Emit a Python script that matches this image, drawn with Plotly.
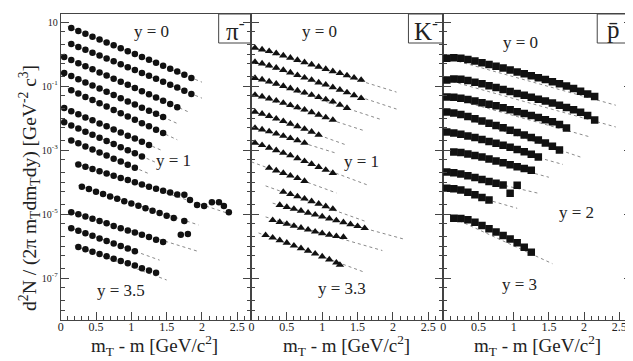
import plotly.graph_objects as go

# page body has an 8px margin: figure is 8px smaller and all reference
# pixel positions are shifted by OFF when converted to paper coordinates
OFF = 8
FW, FH = 633 - OFF, 361 - OFF

# ---------------- data (log10 of yield) ----------------
pi_x = [
    [0.15,0.25,0.35,0.45,0.55,0.65,0.75,0.85,0.95,1.05,1.15,1.25,1.35,1.45,1.55,1.65,1.75,1.85],
    [0.15,0.25,0.35,0.45,0.55,0.65,0.75,0.85,0.95,1.05,1.15,1.25,1.35,1.45,1.55,1.65,1.75,1.85],
    [0.05,0.15,0.25,0.35,0.45,0.55,0.65,0.75,0.85,0.95,1.05,1.15,1.25,1.35,1.45,1.55,1.65],
    [0.05,0.15,0.25,0.35,0.45,0.55,0.65,0.75,0.85,0.95,1.05,1.15,1.25,1.35,1.45],
    [0.15,0.25,0.35,0.45,0.55,0.65,0.75,0.85,0.95,1.05,1.15,1.25,1.35,1.45],
    [0.05,0.15,0.25,0.35,0.45,0.55,0.65,0.75,0.85,0.95,1.05,1.15,1.25],
    [0.05,0.15,0.25,0.35,0.45,0.55,0.65,0.75,0.85,0.95,1.05,1.15],
    [0.15,0.25,0.35,0.45,0.55,0.65,0.75,0.85,0.95,1.05],
    [0.25,0.35,0.45,0.55,0.65,0.75,0.85,0.95,1.05,1.15,1.25,1.35,1.45,1.55,1.65,1.75,1.83,1.93,2.03,2.14,2.24,2.31,2.38],
    [0.3,0.4,0.5,0.6,0.7,0.8,0.9,1.0,1.1,1.2,1.3,1.4,1.5,1.6,1.75],
    [0.15,0.25,0.35,0.45,0.55,0.65,0.75,0.85,0.95,1.05,1.15,1.25,1.35,1.45,1.7,1.8],
    [0.15,0.25,0.35,0.45,0.55,0.65,0.75,0.85,0.95,1.05],
    [0.25,0.35,0.45,0.55,0.65,0.75,0.85,0.95,1.05,1.15,1.25,1.35],
]
pi_ly = [
    [0.81,0.72,0.63,0.54,0.45,0.36,0.27,0.18,0.09,0.00,-0.09,-0.18,-0.27,-0.37,-0.46,-0.55,-0.65,-0.75],
    [0.31,0.22,0.13,0.04,-0.05,-0.14,-0.23,-0.32,-0.41,-0.50,-0.59,-0.68,-0.77,-0.87,-0.96,-1.05,-1.15,-1.25],
    [-0.09,-0.19,-0.29,-0.38,-0.48,-0.58,-0.67,-0.77,-0.87,-0.96,-1.06,-1.16,-1.26,-1.36,-1.46,-1.56,-1.66],
    [-0.59,-0.69,-0.79,-0.89,-0.98,-1.08,-1.18,-1.28,-1.38,-1.48,-1.58,-1.68,-1.77,-1.87,-1.97],
    [-1.13,-1.23,-1.34,-1.44,-1.54,-1.64,-1.75,-1.85,-1.95,-2.05,-2.16,-2.26,-2.37,-2.47],
    [-1.69,-1.79,-1.88,-1.98,-2.07,-2.17,-2.26,-2.36,-2.45,-2.55,-2.64,-2.74,-2.84],
    [-2.13,-2.23,-2.33,-2.43,-2.52,-2.62,-2.72,-2.81,-2.91,-3.01,-3.10,-3.20],
    [-2.70,-2.79,-2.89,-2.98,-3.08,-3.17,-3.27,-3.36,-3.46,-3.55],
    [-3.45,-3.52,-3.59,-3.66,-3.73,-3.80,-3.87,-3.94,-4.01,-4.08,-4.15,-4.21,-4.27,-4.33,-4.39,-4.40,-4.56,-4.72,-4.75,-4.63,-4.63,-4.75,-4.94],
    [-4.15,-4.22,-4.30,-4.37,-4.45,-4.52,-4.60,-4.67,-4.74,-4.82,-4.90,-4.97,-5.05,-5.12,-5.22],
    [-4.94,-5.01,-5.08,-5.15,-5.22,-5.29,-5.37,-5.44,-5.51,-5.58,-5.65,-5.72,-5.80,-5.87,-5.65,-5.62],
    [-5.44,-5.52,-5.60,-5.68,-5.76,-5.84,-5.92,-6.00,-6.08,-6.16],
    [-6.03,-6.10,-6.18,-6.25,-6.32,-6.40,-6.47,-6.54,-6.61,-6.69,-6.76,-6.83],
]
pi_fit_x = [[0.1,2.0],[0.1,2.0],[0.05,1.8],[0.05,1.65],[0.1,1.65],[0.05,1.45],[0.05,1.35],[0.1,1.25],
            [0.2,2.4],[0.25,1.95],[0.1,1.95],[0.1,1.4],[0.2,1.5]]
pi_fit_ly = [[0.86,-0.88],[0.36,-1.38],[-0.09,-1.80],[-0.59,-2.17],[-1.08,-2.68],[-1.69,-3.03],[-2.13,-3.39],
             [-2.65,-3.74],[-3.41,-5.00],[-4.11,-5.34],[-4.91,-6.17],[-5.40,-6.44],[-5.99,-7.06]]

k_x = [
    [0.05,0.15,0.25,0.35,0.45,0.55,0.65,0.75,0.85,0.95,1.05,1.15,1.25,1.35,1.45,1.55],
    [0.05,0.15,0.25,0.35,0.45,0.55,0.65,0.75,0.85,0.95,1.05,1.15,1.25,1.35,1.45,1.55],
    [0.05,0.15,0.25,0.35,0.45,0.55,0.65,0.75,0.85,0.95,1.05,1.15,1.25,1.35],
    [0.05,0.15,0.25,0.35,0.45,0.55,0.65,0.75,0.85,0.95,1.05,1.15],
    [0.05,0.15,0.25,0.35,0.45,0.55,0.65,0.75,0.85,0.95],
    [0.05,0.15,0.25,0.35,0.45,0.55,0.65,0.75],
    [0.05,0.15,0.25,0.35,0.45,0.55,0.65,0.75,0.85,0.95,1.05,1.15],
    [0.25,0.35,0.45,0.55,0.65,0.75],
    [0.45,0.55,0.65,0.75,0.85,0.95,1.05,1.15],
    [0.4,0.5,0.6,0.7,0.8,0.9,1.0,1.1,1.2,1.3,1.4,1.5,1.6],
    [0.3,0.4,0.5,0.6,0.7,0.8,0.9,1.0,1.1,1.2,1.3],
    [0.2,0.3,0.4,0.5,0.6,0.7,0.8,0.9,1.0,1.1,1.2,1.25],
]
k_ly = [
    [0.19,0.14,0.09,0.02,-0.05,-0.12,-0.19,-0.26,-0.33,-0.40,-0.47,-0.54,-0.60,-0.67,-0.74,-0.81],
    [-0.25,-0.30,-0.36,-0.43,-0.50,-0.58,-0.66,-0.74,-0.81,-0.89,-0.96,-1.04,-1.12,-1.20,-1.29,-1.38],
    [-0.75,-0.80,-0.86,-0.93,-1.00,-1.07,-1.14,-1.21,-1.28,-1.35,-1.42,-1.49,-1.59,-1.69],
    [-1.28,-1.33,-1.39,-1.46,-1.53,-1.60,-1.67,-1.74,-1.82,-1.90,-1.98,-2.06],
    [-1.81,-1.87,-1.94,-2.02,-2.10,-2.18,-2.26,-2.34,-2.43,-2.53],
    [-2.31,-2.36,-2.42,-2.49,-2.56,-2.63,-2.70,-2.78],
    [-2.78,-2.85,-2.93,-3.01,-3.09,-3.17,-3.26,-3.35,-3.44,-3.53,-3.62,-3.72],
    [-3.56,-3.64,-3.72,-3.80,-3.88,-3.97],
    [-4.31,-4.38,-4.45,-4.52,-4.60,-4.68,-4.76,-4.84],
    [-4.72,-4.78,-4.84,-4.90,-4.96,-5.02,-5.08,-5.14,-5.20,-5.26,-5.32,-5.38,-5.44],
    [-5.19,-5.25,-5.31,-5.37,-5.43,-5.49,-5.55,-5.60,-5.65,-5.69,-5.72],
    [-5.66,-5.74,-5.82,-5.90,-5.99,-6.07,-6.15,-6.24,-6.33,-6.42,-6.52,-6.59],
]
k_fit_x = [[0.0,2.05],[0.0,2.05],[0.0,1.85],[0.0,1.6],[0.0,1.35],[0.0,1.2],[0.0,1.65],[0.0,1.2],
           [0.2,1.6],[0.3,2.15],[0.2,1.85],[0.1,1.6]]
k_fit_ly = [[0.22,-1.19],[-0.22,-1.72],[-0.72,-2.06],[-1.25,-2.40],[-1.78,-2.85],[-2.28,-3.10],
            [-2.74,-4.10],[-3.37,-4.34],[-4.12,-5.22],[-4.66,-5.78],[-5.09,-6.14],[-5.59,-6.82]]

pb_x = [
    [0.05,0.15,0.25,0.35,0.45,0.55,0.65,0.75,0.85,0.95,1.05,1.15,1.25,1.35,1.45,1.55,1.65,1.75,1.85,1.95,2.05,2.15],
    [0.05,0.15,0.25,0.35,0.45,0.55,0.65,0.75,0.85,0.95,1.05,1.15,1.25,1.35,1.45,1.55,1.65,1.75,1.85,1.95,2.05,2.15],
    [0.05,0.15,0.25,0.35,0.45,0.55,0.65,0.75,0.85,0.95,1.05,1.15,1.25,1.35,1.45,1.55,1.65,1.75],
    [0.05,0.15,0.25,0.35,0.45,0.55,0.65,0.75,0.85,0.95,1.05,1.15,1.25,1.35,1.45,1.55,1.65],
    [0.05,0.15,0.25,0.35,0.45,0.55,0.65,0.75,0.85,0.95,1.05,1.15,1.25,1.35],
    [0.15,0.25,0.35,0.45,0.55,0.65,0.75,0.85,0.95,1.05,1.15,1.25],
    [0.05,0.15,0.25,0.35,0.45,0.55,0.65,0.75,0.85,0.95,1.05],
    [0.05,0.15,0.25,0.35,0.45,0.55,0.65],
    [0.15,0.25,0.35,0.45,0.55,0.65,0.75,0.85,0.95,1.05,1.15,1.25],
]
pb_ly = [
    [-0.13,-0.12,-0.13,-0.17,-0.22,-0.27,-0.33,-0.38,-0.44,-0.50,-0.56,-0.62,-0.68,-0.74,-0.80,-0.87,-0.93,-1.00,-1.08,-1.16,-1.25,-1.33],
    [-0.81,-0.78,-0.79,-0.83,-0.88,-0.93,-0.99,-1.05,-1.11,-1.17,-1.23,-1.29,-1.35,-1.41,-1.47,-1.53,-1.60,-1.67,-1.74,-1.82,-1.92,-2.06],
    [-1.34,-1.35,-1.38,-1.42,-1.47,-1.52,-1.57,-1.62,-1.68,-1.74,-1.80,-1.86,-1.92,-1.98,-2.05,-2.12,-2.20,-2.31],
    [-1.81,-1.84,-1.89,-1.95,-2.02,-2.09,-2.16,-2.23,-2.30,-2.38,-2.45,-2.53,-2.61,-2.69,-2.78,-2.88,-3.00],
    [-2.44,-2.47,-2.51,-2.56,-2.61,-2.67,-2.73,-2.79,-2.85,-2.91,-2.98,-3.05,-3.13,-3.22],
    [-3.06,-3.08,-3.12,-3.17,-3.22,-3.28,-3.34,-3.40,-3.46,-3.52,-3.58,-3.63],
    [-3.69,-3.71,-3.75,-3.80,-3.86,-3.92,-3.98,-4.04,-4.09,-4.35,-4.10],
    [-4.19,-4.21,-4.25,-4.32,-4.40,-4.48,-4.56],
    [-5.13,-5.14,-5.18,-5.26,-5.36,-5.46,-5.56,-5.67,-5.78,-5.90,-6.04,-6.19],
]
pb_fit_x = [[0.05,2.45],[0.05,2.45],[0.05,2.1],[0.05,1.95],[0.05,1.7],[0.15,1.5],[0.05,1.35],[0.05,1.05],[0.15,1.55]]
pb_fit_ly = [[-0.13,-1.60],[-0.81,-2.28],[-1.34,-2.60],[-1.81,-3.22],[-2.44,-3.45],[-3.06,-3.85],
             [-3.69,-4.35],[-4.19,-4.82],[-5.13,-6.55]]

panel_symbols = ["circle", "triangle-up", "square"]
panel_names = ["π<sup>-</sup>", "K<sup>-</sup>", "p̄"]
x_tick_vals = [0, 0.5, 1, 1.5, 2, 2.5]
x_tick_text = ["0", "0.5", "1", "1.5", "2", "2.5"]
y_label_decades = [1, -1, -3, -5, -7]
y_label_text = ["10", "10<sup>-1</sup>", "10<sup>-3</sup>", "10<sup>-5</sup>", "10<sup>-7</sup>"]

# ---------------- figure ----------------
FONT = "Liberation Serif, Times New Roman, serif"
fig = go.Figure()

panels = [(pi_x, pi_ly, pi_fit_x, pi_fit_ly), (k_x, k_ly, k_fit_x, k_fit_ly), (pb_x, pb_ly, pb_fit_x, pb_fit_ly)]
msize = [6.5, 7.5, 7.5]
for p, (xs, lys, fxs, flys) in enumerate(panels):
    xa = "x" if p == 0 else f"x{p+1}"
    ya = "y" if p == 0 else f"y{p+1}"
    for fx, fly in zip(fxs, flys):
        fig.add_trace(go.Scatter(x=fx, y=[10**v for v in fly], mode="lines", xaxis=xa, yaxis=ya,
                                 line=dict(color="#8a8a8a", width=1, dash="3px,3px"), showlegend=False,
                                 hoverinfo="skip"))
    for xr, lyr in zip(xs, lys):
        fig.add_trace(go.Scatter(x=xr, y=[10**v for v in lyr], mode="markers", xaxis=xa, yaxis=ya,
                                 marker=dict(symbol=panel_symbols[p], size=msize[p], color="#111",
                                             line=dict(width=0)), showlegend=False))

def px2x(px): return (px - OFF) / FW
def py2y(py): return 1 - (py - OFF) / FH

x_domains = [[px2x(58), px2x(250)], [px2x(250), px2x(443)], [px2x(443), 1.0]]
x_ranges = [[0, 2.70], [0, 2.71], [0, 2.68]]
y_dom = [py2y(320), py2y(14)]
y_rng = [-8.31, 1.25]

major_y = [10.0**k for k in y_label_decades]
minor_y = ([10.0**k for k in range(-8, 2) if k not in y_label_decades] +
           [m * 10.0**k for k in range(-9, 2) for m in (2, 5)])

layout = dict(width=FW, height=FH, margin=dict(l=0, r=0, t=0, b=0),
              paper_bgcolor="white", plot_bgcolor="white", showlegend=False,
              font=dict(family=FONT, color="#222"))
for p in range(3):
    xk = "xaxis" if p == 0 else f"xaxis{p+1}"
    yk = "yaxis" if p == 0 else f"yaxis{p+1}"
    layout[xk] = dict(domain=x_domains[p], range=x_ranges[p], anchor="y" if p == 0 else f"y{p+1}",
                      showgrid=False, zeroline=False, showline=True, linecolor="#444", linewidth=1,
                      mirror=True, ticks="inside", ticklen=8, tickcolor="#444",
                      tickvals=x_tick_vals, ticktext=x_tick_text, ticklabelstandoff=-4,
                      tickfont=dict(family=FONT, size=12, color="#222"),
                      minor=dict(ticks="inside", ticklen=4, dtick=0.1, tickcolor="#444"))
    layout[yk] = dict(domain=y_dom, type="log", range=y_rng, anchor="x" if p == 0 else f"x{p+1}",
                      showgrid=False, zeroline=False, showline=True, linecolor="#444", linewidth=1,
                      mirror="ticks", ticks="inside", ticklen=8, tickcolor="#444",
                      tickvals=major_y, ticktext=y_label_text,
                      tickfont=dict(family=FONT, size=10, color="#222"),
                      minor=dict(ticks="inside", ticklen=4, tickvals=minor_y, tickcolor="#444"),
                      showticklabels=(p == 0))
fig.update_layout(**layout)

ann = []
def add_text(cx, cy, text, size, angle=0):
    ann.append(dict(x=px2x(cx), y=py2y(cy), xref="paper", yref="paper", xanchor="center",
                    yanchor="middle", textangle=angle, showarrow=False, text=text,
                    font=dict(family=FONT, size=size, color="#222")))

# axis titles
add_text(26, 188, "d<sup>2</sup>N / (2π m<sub>T</sub>dm<sub>T</sub>dy) [GeV<sup>-2</sup> c<sup>3</sup>]", 19.5, -90)
for cx in (152, 346, 538):
    add_text(cx, 345, "m<sub>T</sub> - m [GeV/c<sup>2</sup>]", 19)
# rapidity labels
for (cx, cy, t) in [(149, 32, "y = 0"), (172, 160, "y = 1"), (119, 290, "y = 3.5"),
                    (318, 32, "y = 0"), (361, 161, "y = 1"), (341, 288, "y = 3.3"),
                    (521, 42, "y = 0"), (577, 212, "y = 2"), (520, 284, "y = 3")]:
    add_text(cx, cy, t, 17)
# particle boxes
shapes = []
for (x0, x1) in [(217, 250), (408, 443), (598, 640)]:
    shapes.append(dict(type="rect", xref="paper", yref="paper", x0=px2x(x0), x1=px2x(x1),
                       y0=py2y(43), y1=py2y(14), line=dict(color="#444", width=1), fillcolor="white",
                       layer="below"))
for (cx, t) in [(234, panel_names[0]), (426, panel_names[1]), (614, panel_names[2])]:
    add_text(cx, 29, t, 25)
fig.update_layout(annotations=ann, shapes=shapes)

fig.write_html("out.html")
